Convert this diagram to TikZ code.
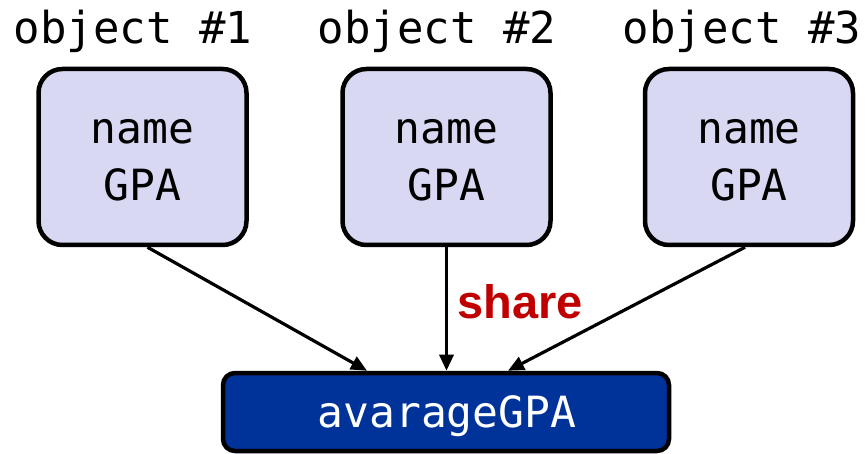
\documentclass[tikz,border=0pt]{standalone}
\usepackage{fontspec}
\setmainfont{Liberation Sans}
\newfontfamily\codefont{DejaVu Sans Mono}
\usetikzlibrary{arrows.meta,calc}
\definecolor{boxfill}{RGB}{216,216,243}
\definecolor{darkblue}{RGB}{0,51,153}
\definecolor{sharered}{RGB}{192,0,0}
\begin{document}
\begin{tikzpicture}[x=1pt,y=-1pt,
  objbox/.style={draw=black,line width=4.5pt,fill=boxfill,rounded corners=24pt,minimum width=208pt,minimum height=176pt,inner sep=0pt},
  avgbox/.style={draw=black,line width=4.5pt,fill=darkblue,rounded corners=12pt,minimum width=446pt,minimum height=78pt,inner sep=0pt,text=white},
  title/.style={font=\codefont\fontsize{44}{50}\selectfont,anchor=base,inner sep=0pt},
  inner/.style={font=\codefont\fontsize{43}{57}\selectfont,align=center,inner sep=0pt},
  conn/.style={line width=3.2pt,-{Triangle[length=16pt,width=14pt]}}
]
\useasboundingbox (0,0) rectangle (865,454);
\node[objbox] (b1) at (142.5,157) {};
\node[objbox] (b2) at (446.5,157) {};
\node[objbox] (b3) at (749,157) {};
\node[inner] (t1) at (142.5,160) {name\\GPA};
\node[inner] (t2) at (446.5,160) {name\\GPA};
\node[inner] (t3) at (749,160) {name\\GPA};
\node[title] (h1) at (133,44) {object \#1};
\node[title] (h2) at (437,44) {object \#2};
\node[title] (h3) at (742,44) {object \#3};
\node[avgbox] (avg) at (446,412) {};
\node[font=\codefont\fontsize{43}{50}\selectfont,text=white,anchor=base,inner sep=0pt] (avgt) at (447,427) {avarageGPA};
\coordinate (s1) at ($(b1.south)+(5,0)$);
\coordinate (s3) at ($(b3.south)+(-4,0)$);
\coordinate (e1) at ($(avg.north)+(-79,0)$);
\coordinate (e3) at ($(avg.north)+(62,0)$);
\draw[conn] (s1) -- (e1);
\draw[conn] (b2.south) -- (b2.south |- avg.north);
\draw[conn] (s3) -- (e3);
\node[font=\bfseries\fontsize{47}{50}\selectfont,text=sharered,anchor=base west,inner sep=0pt] (share) at (457,319) {share};
\end{tikzpicture}
\end{document}
